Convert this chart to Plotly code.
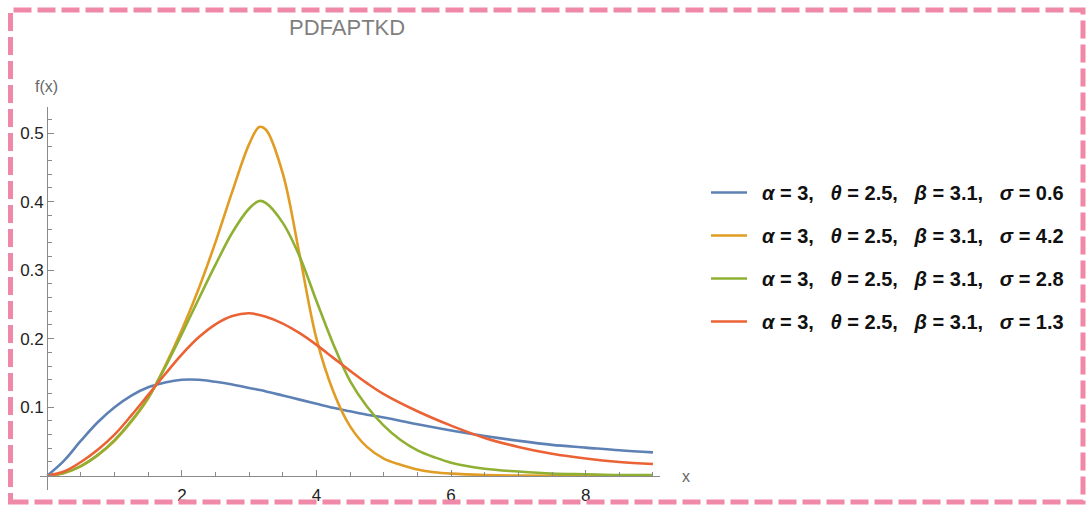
import plotly.graph_objects as go

# Sample points of the density curves, x in [0, 9]
x_blue = [0, 0.25, 0.5, 0.75, 1.0, 1.25, 1.5, 1.75, 2.0, 2.25, 2.5, 2.75, 3.0, 3.25, 3.5,
          3.75, 4.0, 4.25, 4.5, 4.75, 5.0, 5.5, 6.0, 6.5, 7.0, 7.5, 8.0, 8.5, 9.0]
f_blue = [0, 0.022, 0.051, 0.078, 0.100, 0.117, 0.129, 0.136, 0.140, 0.140, 0.137, 0.133,
          0.128, 0.123, 0.117, 0.111, 0.105, 0.099, 0.094, 0.089, 0.085, 0.075, 0.066,
          0.058, 0.051, 0.045, 0.041, 0.037, 0.034]

x_red = [0, 0.25, 0.5, 0.75, 1.0, 1.25, 1.5, 1.75, 2.0, 2.25, 2.5, 2.75, 3.0, 3.25, 3.5,
         3.75, 4.0, 4.25, 4.5, 4.75, 5.0, 5.5, 6.0, 6.5, 7.0, 7.5, 8.0, 8.5, 9.0]
f_red = [0, 0.006, 0.020, 0.038, 0.060, 0.088, 0.118, 0.148, 0.177, 0.202, 0.221, 0.233,
         0.237, 0.232, 0.222, 0.208, 0.191, 0.172, 0.153, 0.135, 0.119, 0.094, 0.073,
         0.055, 0.042, 0.032, 0.025, 0.020, 0.017]

x_green = [0, 0.25, 0.5, 0.75, 1.0, 1.25, 1.5, 1.75, 2.0, 2.25, 2.5, 2.75, 3.0, 3.15, 3.25,
           3.5, 3.75, 4.0, 4.25, 4.5, 4.75, 5.0, 5.25, 5.5, 5.75, 6.0, 6.5, 7.0, 7.5, 8.0,
           8.5, 9.0]
f_green = [0, 0.004, 0.014, 0.030, 0.052, 0.080, 0.114, 0.158, 0.207, 0.258, 0.308, 0.355,
           0.390, 0.401, 0.398, 0.369, 0.320, 0.255, 0.192, 0.138, 0.101, 0.073, 0.052,
           0.037, 0.027, 0.019, 0.010, 0.006, 0.003, 0.002, 0.001, 0.001]

x_orange = [0, 0.25, 0.5, 0.75, 1.0, 1.25, 1.5, 1.75, 2.0, 2.25, 2.5, 2.75, 3.0, 3.15, 3.25,
            3.5, 3.75, 4.0, 4.25, 4.5, 4.75, 5.0, 5.25, 5.5, 5.75, 6.0, 6.5, 7.0, 8.0, 9.0]
f_orange = [0, 0.004, 0.014, 0.030, 0.051, 0.079, 0.113, 0.160, 0.213, 0.273, 0.341, 0.415,
            0.484, 0.509, 0.505, 0.441, 0.322, 0.200, 0.123, 0.072, 0.042, 0.025, 0.016,
            0.009, 0.005, 0.003, 0.001, 0.0, 0.0, 0.0]

LEAD = "\u2002"
SP = ",\u2002\u2004"
labels = [
    f"{LEAD}<b><i>α</i> = 3{SP}<i>θ</i> = 2.5{SP}<i>β</i> = 3.1{SP}<i>σ</i> = 0.6</b>",
    f"{LEAD}<b><i>α</i> = 3{SP}<i>θ</i> = 2.5{SP}<i>β</i> = 3.1{SP}<i>σ</i> = 4.2</b>",
    f"{LEAD}<b><i>α</i> = 3{SP}<i>θ</i> = 2.5{SP}<i>β</i> = 3.1{SP}<i>σ</i> = 2.8</b>",
    f"{LEAD}<b><i>α</i> = 3{SP}<i>θ</i> = 2.5{SP}<i>β</i> = 3.1{SP}<i>σ</i> = 1.3</b>",
]
colors = ["#5E81B5", "#E19C24", "#8FB032", "#EB6235"]
series = [(x_blue, f_blue), (x_orange, f_orange), (x_green, f_green), (x_red, f_red)]

x_ticks = [2, 4, 6, 8]
y_ticks = [0.1, 0.2, 0.3, 0.4, 0.5]

W, H = 1090, 508
ML, MR, MT, MB = 40, 430, 107, 18
PW, PH = W - ML - MR, H - MT - MB
XR = [-0.108, -0.108 + PW / 67.3]
YR = [0.5382 - PH / 685.0, 0.5382]

def px(xp):
    return (xp - ML) / PW

def py(yp):
    return (H - MB - yp) / PH

fig = go.Figure()
for i, ((xs, ys), name, c) in enumerate(zip(series, labels, colors)):
    fig.add_trace(go.Scatter(
        x=xs, y=ys, mode="lines", name=name, legendgroup=f"g{i}",
        line=dict(color=c, width=2.6, shape="spline", smoothing=1.0),
        hoverinfo="skip",
    ))

axis_color = "#8a8a8a"
tick_font = dict(family="Liberation Sans, Arial, sans-serif", size=17, color="#222")

fig.update_layout(
    width=W, height=H,
    margin=dict(l=ML, r=MR, t=MT, b=MB, autoexpand=False),
    paper_bgcolor="white", plot_bgcolor="white",
    showlegend=True,
    legend=dict(
        x=px(706), y=py(173), xanchor="left", yanchor="top",
        font=dict(family="Liberation Sans, Arial, sans-serif", size=20, color="#111"),
        tracegroupgap=14, itemwidth=36, bgcolor="rgba(0,0,0,0)",
    ),
    xaxis=dict(
        range=XR, anchor="free", position=(0 - YR[0]) / (YR[1] - YR[0]),
        automargin=False,
        showline=True, linecolor=axis_color, linewidth=1.2,
        showgrid=False, zeroline=False,
        tickmode="array", tickvals=x_ticks, ticks="inside", ticklen=6,
        tickcolor=axis_color, tickwidth=1, tickfont=tick_font,
        ticklabelposition="outside", ticklabelstandoff=4,
        minor=dict(dtick=0.5, tick0=0, ticks="inside", ticklen=3.5,
                   tickcolor=axis_color, tickwidth=1),
    ),
    yaxis=dict(
        range=YR, anchor="free", position=(0 - XR[0]) / (XR[1] - XR[0]),
        automargin=False,
        showline=True, linecolor=axis_color, linewidth=1.2,
        showgrid=False, zeroline=False,
        tickmode="array", tickvals=y_ticks, ticks="inside", ticklen=6,
        tickcolor=axis_color, tickwidth=1, tickfont=tick_font,
        minor=dict(dtick=0.02, tick0=0, ticks="inside", ticklen=3.5,
                   tickcolor=axis_color, tickwidth=1),
    ),
    annotations=[
        dict(text="PDFAPTKD", xref="paper", yref="paper", x=px(347), y=py(28),
             xanchor="center", yanchor="middle", showarrow=False,
             font=dict(family="Liberation Sans, Arial, sans-serif", size=22, color="#7f7f7f")),
        dict(text="f(x)", xref="paper", yref="paper", x=px(46), y=py(86),
             xanchor="center", yanchor="middle", showarrow=False,
             font=dict(family="Liberation Sans, Arial, sans-serif", size=16, color="#666")),
        dict(text="x", xref="paper", yref="paper", x=px(686), y=py(476),
             xanchor="center", yanchor="middle", showarrow=False,
             font=dict(family="Liberation Sans, Arial, sans-serif", size=16, color="#666")),
    ],
    shapes=[
        dict(type="rect", xref="paper", yref="paper",
             x0=px(10.5), x1=px(1083), y0=py(502), y1=py(10),
             line=dict(color="#F088A8", width=5, dash="18px,6px"),
             fillcolor="rgba(0,0,0,0)", layer="above"),
    ],
)

fig.write_html("out.html")
